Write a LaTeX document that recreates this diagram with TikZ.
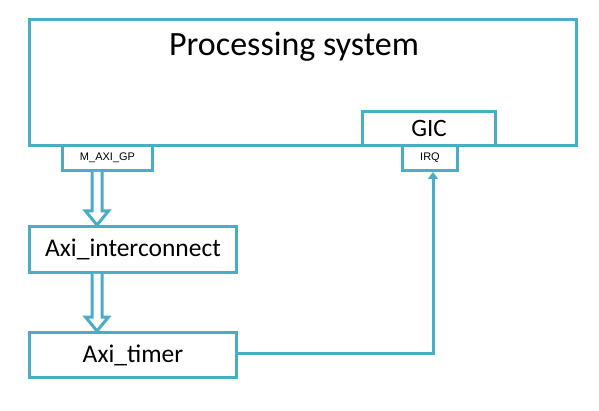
\documentclass[tikz,border=0pt]{standalone}
\usepackage{fontspec}
\setmainfont{Carlito}
\newfontfamily\portfont{Liberation Sans}
\usetikzlibrary{arrows.meta,calc}
\definecolor{zynqblue}{HTML}{4BACC6}

\begin{document}
\begin{tikzpicture}[x=1pt,y=-1pt,
		blk/.style={draw=zynqblue, line width=3pt, fill=white, inner sep=0pt, anchor=north west},
		port/.style={blk, font=\portfont\fontsize{11}{12}\selectfont},
		bus/.style={draw=zynqblue, line width=3pt, line join=miter, fill=white}]
		\useasboundingbox (0,0) rectangle (599,411);

		% Processing system with its ports
		\node[blk, minimum width=547pt, minimum height=126pt] (ps) at (28,18) {};
		\node[font=\fontsize{34}{36}\selectfont] (pstext) at (294,47) {Processing system};
		\node[blk, minimum width=133pt, minimum height=34pt, font=\fontsize{25}{28}\selectfont] (gic) at (361,110) {GIC};
		\node[port, minimum width=90pt, minimum height=25pt] (maxi) at (61,144) {M\_AXI\_GP};
		\node[port, minimum width=55pt, minimum height=25pt] (irq) at (401,144) {IRQ};

		% Peripherals
		\node[blk, minimum width=207pt, minimum height=46pt, font=\fontsize{25.5}{28}\selectfont] (ic) at (28,225) {Axi\_interconnect};
		\node[blk, minimum width=207pt, minimum height=45pt, font=\fontsize{25.5}{28}\selectfont] (timer) at (28,331) {Axi\_timer};

		% Bus arrows
		\coordinate (busx) at (97,0);
		\foreach \src/\dst in {maxi/ic, ic/timer}
			\draw[bus] let \p1=(\src.south), \p2=(\dst.north), \p3=(busx) in
				(\x3-5pt,\y1) -- (\x3-5pt,\y2+14pt) -- (\x3-11.5pt,\y2+14pt) -- (\x3,\y2)
				-- (\x3+11.5pt,\y2+14pt) -- (\x3+5pt,\y2+14pt) -- (\x3+5pt,\y1);

		% Interrupt line
		\draw[-{Triangle[width=10pt,length=7pt]}, draw=zynqblue, line width=3pt]
			([yshift=2pt]timer.east) -| ([xshift=3pt]irq.south);
	\end{tikzpicture}
\end{document}
